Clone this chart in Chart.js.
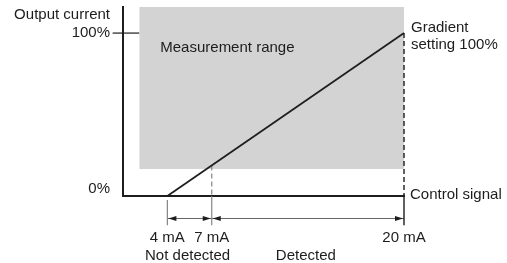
<!DOCTYPE html>
<html>
<head>
<meta charset="utf-8">
<script src="https://cdn.jsdelivr.net/npm/chart.js@4.4.0/dist/chart.umd.min.js"></script>
<style>
  html, body { margin: 0; padding: 0; background: #fff; }
  #wrap { width: 507px; height: 263px; }
</style>
</head>
<body>
<div id="wrap"><canvas id="chart" width="507" height="263"></canvas></div>
<script>
// data
const signalMA = [4, 20];          // control signal, mA
const outputPct = [0, 100];        // output current, %
const rangeMA = [2.1, 20];         // measurement range box, mA
const rangePct = [16.5, 116];      // measurement range box, %
const markMA = [4, 7, 20];
const markLabels = ['4 mA', '7 mA', '20 mA'];
const pctTicks = [0, 100];
const pctLabels = ['0%', '100%'];
const zoneBounds = [[4, 7], [7, 20]];
const zoneLabels = ['Not detected', 'Detected'];
const xRange = [1, 20];
const yRange = [0, 116];

const INK = '#1e1c1d';
const GREY = '#858585';
const dimY = -13.8;     // dimension arrows level (in % units, below axis)
const tickLow = -18;

// output value at a given signal (on the drawn line)
function outAt(ma) {
  return outputPct[0] + (ma - signalMA[0]) / (signalMA[1] - signalMA[0]) * (outputPct[1] - outputPct[0]);
}

function seg(points, color, extra) {
  return Object.assign({
    data: points,
    showLine: true,
    borderColor: color,
    borderWidth: 1.2,
    pointRadius: 0,
    clip: false,
    order: 2
  }, extra || {});
}

const datasets = [
  seg(signalMA.map((v, i) => ({ x: v, y: outputPct[i] })), INK, { borderWidth: 1.7, order: 1 }),
  seg([{ x: 0.3, y: pctTicks[1] }, { x: rangeMA[0], y: pctTicks[1] }], INK),
  seg([{ x: markMA[1], y: outAt(markMA[1]) }, { x: markMA[1], y: 0 }], GREY, { borderDash: [5, 3] }),
  seg([{ x: markMA[2], y: outAt(markMA[2]) }, { x: markMA[2], y: 0 }], INK, { borderDash: [5, 3], borderWidth: 1.4 }),
  seg([{ x: markMA[0], y: -2.5 }, { x: markMA[0], y: tickLow }], GREY),
  seg([{ x: markMA[1], y: 0 }, { x: markMA[1], y: tickLow }], GREY),
  seg([{ x: markMA[2], y: 0 }, { x: markMA[2], y: tickLow }], INK, { borderWidth: 1.4 }),
  ...zoneBounds.map(z => seg([{ x: z[0], y: dimY }, { x: z[1], y: dimY }], '#666', { borderWidth: 1 })),
  seg([{ x: rangeMA[0], y: rangePct[1] }, { x: rangeMA[1], y: rangePct[1] }], 'rgba(0,0,0,0)', {
    borderWidth: 0,
    fill: { value: rangePct[0] },
    backgroundColor: '#d3d3d3',
    order: 10
  })
];

const annotate = {
  id: 'annotate',
  afterDatasetsDraw(chart) {
    const { ctx, chartArea, scales: { x, y } } = chart;
    ctx.save();

    // arrow heads
    ctx.fillStyle = INK;
    const ay = y.getPixelForValue(dimY);
    zoneBounds.forEach(z => {
      const a = x.getPixelForValue(z[0]) + 1;
      const b = x.getPixelForValue(z[1]) - 1;
      ctx.beginPath();
      ctx.moveTo(a, ay); ctx.lineTo(a + 8, ay - 2.5); ctx.lineTo(a + 8, ay + 2.5);
      ctx.closePath(); ctx.fill();
      ctx.beginPath();
      ctx.moveTo(b, ay); ctx.lineTo(b - 8, ay - 2.5); ctx.lineTo(b - 8, ay + 2.5);
      ctx.closePath(); ctx.fill();
    });

    ctx.font = '15px "Liberation Sans", Arial, sans-serif';
    ctx.fillStyle = INK;
    ctx.textBaseline = 'middle';

    ctx.textAlign = 'right';
    ctx.fillText('Output current', 110, 15);
    pctTicks.forEach((v, i) => {
      const off = v === 0 ? -7 : 0;
      ctx.fillText(pctLabels[i], 110, y.getPixelForValue(v) + off);
    });

    ctx.textAlign = 'left';
    ctx.fillText('Measurement range', x.getPixelForValue(rangeMA[0]) + 21, 48);
    ctx.fillText('Gradient', chartArea.right + 7, y.getPixelForValue(100) - 5);
    ctx.fillText('setting 100%', chartArea.right + 7, y.getPixelForValue(100) + 12);
    ctx.fillText('Control signal', chartArea.right + 6, chartArea.bottom - 1);

    ctx.textAlign = 'center';
    markMA.forEach((v, i) => {
      ctx.fillText(markLabels[i], x.getPixelForValue(v), chartArea.bottom + 42);
    });
    zoneBounds.forEach((z, i) => {
      ctx.fillText(zoneLabels[i], x.getPixelForValue((z[0] + z[1]) / 2) - 2, chartArea.bottom + 60);
    });
    ctx.restore();
  }
};

new Chart(document.getElementById('chart'), {
  type: 'scatter',
  data: { datasets },
  options: {
    responsive: false,
    animation: false,
    events: [],
    layout: { padding: { left: 123, right: 103, top: 7, bottom: 67 } },
    plugins: { legend: { display: false }, tooltip: { enabled: false } },
    scales: {
      x: {
        type: 'linear', min: xRange[0], max: xRange[1],
        grid: { display: false },
        ticks: { display: false },
        border: { display: true, color: INK, width: 2 },
        afterFit: s => { s.height = 0; }
      },
      y: {
        type: 'linear', min: yRange[0], max: yRange[1],
        grid: { display: false },
        ticks: { display: false },
        border: { display: true, color: INK, width: 2 },
        afterFit: s => { s.width = 0; }
      }
    }
  },
  plugins: [annotate]
});
</script>
</body>
</html>
